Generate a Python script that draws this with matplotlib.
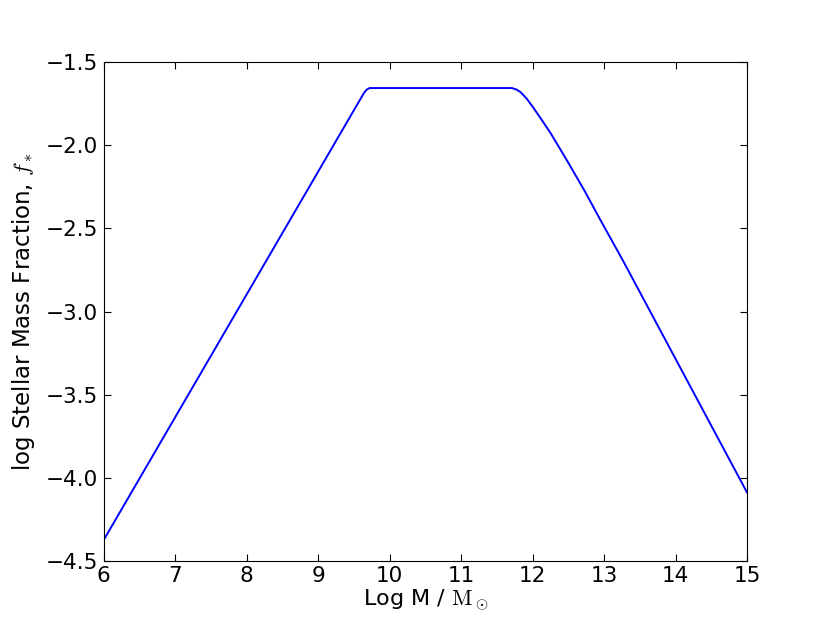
import matplotlib
matplotlib.use('Agg')
import matplotlib.pyplot as plt

# values
log_mass = [6.0, 9.64, 9.68, 9.72, 11.71, 11.77, 11.83, 11.92, 12.01, 12.13,
            12.25, 12.48, 12.72, 12.95, 13.26, 15.0]
log_fstar = [-4.375, -1.685, -1.664, -1.655, -1.655, -1.663, -1.679, -1.72, -1.773, -1.848,
             -1.925, -2.09, -2.268, -2.45, -2.69, -4.089]

plt.rcParams['mathtext.fontset'] = 'cm'
plt.rcParams['font.size'] = 16

fig = plt.figure(figsize=(8.3, 6.23), dpi=100)
ax = fig.add_axes([0.125, 0.1, 0.775, 0.8])
ax.plot(log_mass, log_fstar, color='b', lw=1.4)
ax.set_xlim(6, 15)
ax.set_ylim(-4.5, -1.5)
ax.set_xticks(range(6, 16))
ax.set_yticks([-4.5, -4.0, -3.5, -3.0, -2.5, -2.0, -1.5])
ax.tick_params(direction='in', top=True, right=True, length=5, pad=4, labelsize=15.5)
ax.set_xlabel(r'Log M / $\mathrm{M}_\odot$', labelpad=1)
ax.set_ylabel(r'log Stellar Mass Fraction, $f_*$', labelpad=6, fontsize=16.5)

fig.savefig('out.png', dpi=100)
